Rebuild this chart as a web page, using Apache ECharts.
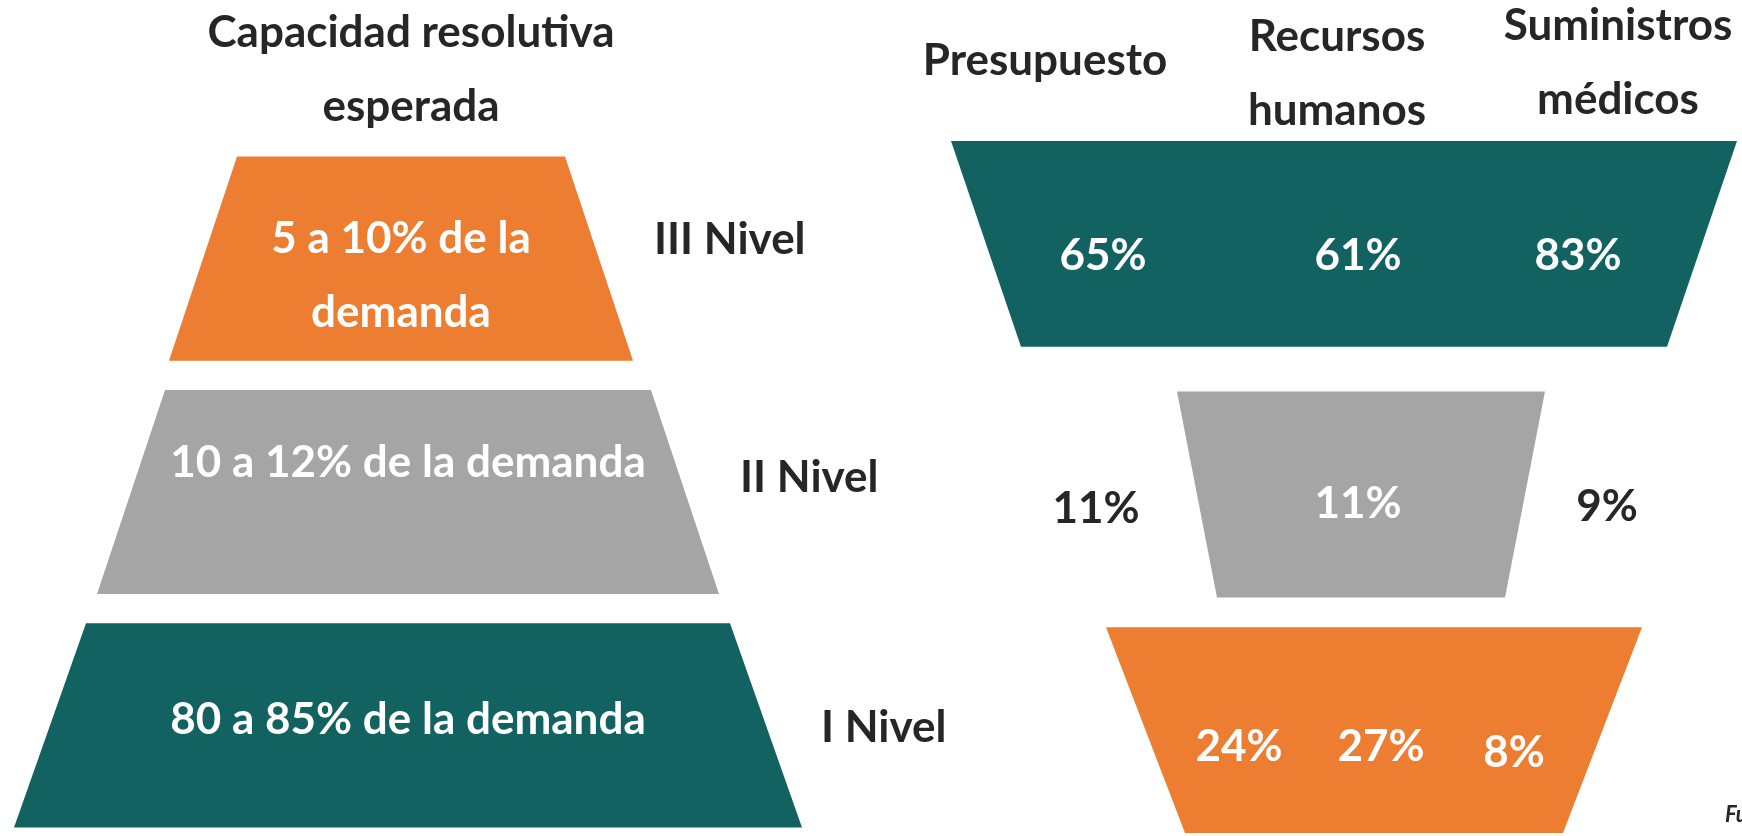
<!DOCTYPE html>
<html>
<head>
<meta charset="utf-8">
<script src="https://cdn.jsdelivr.net/npm/echarts@6/dist/echarts.min.js"></script>
<style>
html, body { margin: 0; padding: 0; background: #fff; }
#chart { width: 1742px; height: 836px; }
</style>
</head>
<body>
<div id="chart"></div>
<script>
// datos
var niveles = ['III Nivel', 'II Nivel', 'I Nivel'];
var demanda = ['5 a 10% de la\ndemanda', '10 a 12% de la demanda', '80 a 85% de la demanda'];
var encabezados = ['Presupuesto', 'Recursos\nhumanos', 'Suministros\nmédicos'];
var presupuesto = [65, 11, 24];
var recursosHumanos = [61, 11, 27];
var suministros = [83, 9, 8];

var FONT = 'Lato';
var OSCURO = '#262626';
var NARANJA = '#ED7D31', GRIS = '#A5A5A5', VERDE = '#136262';

// forma de los trapecios (semi-anchos en px)
var izq = {
	color: [NARANJA, GRIS, VERDE],
	centro: [-5, 2, 2],
	dy: [0, 0, 0],
	arriba: [164, 243, 322],
	abajo: [232, 311, 394],
	alto: 0.875,
	dyTexto: [17, -29, -6],
	dyNivel: [-19, -14, 2]
};
var der = {
	color: [VERDE, GRIS, NARANJA],
	centro: [-6, 11, 24],
	dy: [1, 8, 0],
	arriba: [393, 184, 268],
	abajo: [323, 144, 189],
	alto: 0.845
};
// etiquetas de cada columna
var colEtiqueta = [
	{dx: [-247, -254, -111], dy: [13, 22, 17], color: ['#fff', OSCURO, '#fff']},
	{dx: [8, 8, 31], dy: [13, 17, 17], color: ['#fff', '#fff', '#fff']},
	{dx: [228, 257, 164], dy: [13, 20, 23], color: ['#fff', OSCURO, '#fff']}
];

function txt(text, x, y, color, extra) {
	var s = {
		text: text, x: x, y: y, fill: color,
		fontFamily: FONT, fontWeight: 'bold', fontSize: 44,
		align: 'center', verticalAlign: 'middle', lineHeight: 74
	};
	for (var k in extra) s[k] = extra[k];
	return {type: 'text', style: s};
}

function poligono(api, cfg, i) {
	var c = api.coord([cfg.centro[i], i]);
	c[1] += cfg.dy[i];
	var h = api.size([0, 1])[1] * cfg.alto;
	var wt = api.size([cfg.arriba[i], 0])[0];
	var wb = api.size([cfg.abajo[i], 0])[0];
	return {
		c: c, h: h, wt: wt, wb: wb,
		el: {
			type: 'polygon',
			shape: {points: [[c[0] - wt, c[1] - h / 2], [c[0] + wt, c[1] - h / 2], [c[0] + wb, c[1] + h / 2], [c[0] - wb, c[1] + h / 2]]},
			style: {fill: cfg.color[i]}
		}
	};
}

var chart = echarts.init(document.getElementById('chart'));

var series = [{
	type: 'custom',
	xAxisIndex: 0,
	yAxisIndex: 0,
	data: niveles.map(function(n, i) { return [0, i]; }),
	encode: {x: 0, y: 1},
	renderItem: function(params, api) {
		var i = api.value(1);
		var p = poligono(api, izq, i);
		var derecha = p.c[0] + (p.wt + p.wb) / 2;
		return {
			type: 'group',
			children: [
				p.el,
				txt(demanda[i], p.c[0], p.c[1] + izq.dyTexto[i], '#fff'),
				txt(niveles[i], derecha + 55, p.c[1] + izq.dyNivel[i], OSCURO, {align: 'left'})
			]
		};
	}
}, {
	type: 'custom',
	xAxisIndex: 1,
	yAxisIndex: 1,
	data: niveles.map(function(n, i) { return [0, i]; }),
	encode: {x: 0, y: 1},
	renderItem: function(params, api) {
		return poligono(api, der, api.value(1)).el;
	}
}];

[presupuesto, recursosHumanos, suministros].forEach(function(valores, k) {
	var et = colEtiqueta[k];
	series.push({
		type: 'custom',
		name: encabezados[k],
		xAxisIndex: 1,
		yAxisIndex: 1,
		z: 3,
		data: valores.map(function(v, i) { return [0, i, v]; }),
		encode: {x: 0, y: 1},
		renderItem: function(params, api) {
			var i = api.value(1);
			var c = api.coord([et.dx[i], i]);
			return txt(api.value(2) + '%', c[0], c[1] + et.dy[i], et.color[i]);
		}
	});
});

var cabeceraX = [1045, 1337, 1618],
	cabeceraY = [61, 74, 63];

chart.setOption({
	animation: false,
	backgroundColor: '#fff',
	grid: [
		{left: 1, top: 142, width: 810, height: 700, outerBoundsMode: 'none', containLabel: false},
		{left: 950, top: 121, width: 800, height: 731, outerBoundsMode: 'none', containLabel: false}
	],
	xAxis: [
		{type: 'value', gridIndex: 0, min: -405, max: 405, show: false},
		{type: 'value', gridIndex: 1, min: -400, max: 400, show: false}
	],
	yAxis: [
		{type: 'category', gridIndex: 0, data: niveles, inverse: true, show: false},
		{type: 'category', gridIndex: 1, data: niveles, inverse: true, show: false}
	],
	graphic: [
		txt('Capacidad resolutiva\nesperada', 411, 70, OSCURO)
	].concat(encabezados.map(function(e, k) {
		return txt(e, cabeceraX[k], cabeceraY[k], OSCURO);
	})).concat([
		txt('Fuente: elaboración propia', 1725, 815, OSCURO, {align: 'left', fontSize: 22, fontStyle: 'italic', lineHeight: 26})
	]),
	series: series
});
</script>
</body>
</html>
